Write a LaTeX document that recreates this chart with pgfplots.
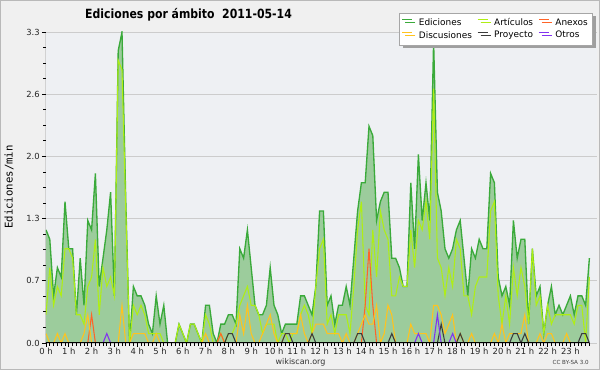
\documentclass[border=0pt]{standalone}
\usepackage{fontspec}
\setmainfont{DejaVu Sans}
\newfontfamily\titlefont[FakeStretch=0.86]{DejaVu Sans}
\newfontfamily\monofont{DejaVu Sans Mono}
\usepackage{pgfplots}
\pgfplotsset{compat=1.18}
\usepackage{pgfplotstable}
\usetikzlibrary{shadows}
\definecolor{bgout}{RGB}{240,240,240}
\definecolor{bgin}{RGB}{238,240,243}
\definecolor{edfill}{RGB}{156,204,156}
\definecolor{edline}{RGB}{58,170,58}
\definecolor{artc}{RGB}{175,238,20}
\definecolor{disc}{RGB}{255,195,30}
\definecolor{anex}{RGB}{255,100,40}
\definecolor{proy}{RGB}{60,60,60}
\definecolor{otro}{RGB}{130,50,240}
\pgfplotstableread{
i E A X D P O
0 1.2 0.3 0 0.1 0 0
1 1.1 0.8 0 0 0 0
2 0.5 0.4 0 0 0 0
3 0.8 0.6 0 0.1 0 0
4 0.7 0.5 0 0 0 0
5 1.5 1.0 0 0.1 0 0
6 1.0 1.0 0 0 0 0
7 1.0 0.9 0 0 0 0
8 0.3 0.3 0 0 0 0
9 0.9 0.3 0 0 0 0
10 0.4 0.2 0 0.1 0 0
11 1.3 0.6 0 0.3 0 0
12 1.2 0.7 0.3 0 0 0
13 1.8 1.1 0 0 0 0
14 0.6 0.3 0 0 0 0
15 0.9 0.8 0 0 0 0
16 1.2 0.6 0 0 0 0.1
17 1.6 0.7 0 0 0 0
18 0.5 0.5 0 0 0 0
19 3.1 3.0 0 0 0 0
20 3.3 2.9 0 0.4 0 0
21 1.5 1.4 0 0 0 0
22 0.0 0 0 0 0 0
23 0.6 0.4 0 0.1 0 0
24 0.5 0.3 0 0.1 0 0
25 0.5 0.4 0 0.1 0 0
26 0.4 0.3 0 0.1 0 0
27 0.2 0.1 0 0 0 0
28 0.1 0.1 0 0 0 0
29 0.5 0.1 0 0.1 0 0
30 0.2 0.1 0 0 0 0
31 0.4 0 0 0 0 0
32 0 0 0 0 0 0
33 0 0 0 0 0 0
34 0 0 0 0 0 0
35 0.2 0.2 0 0 0 0
36 0.1 0.1 0 0 0 0
37 0 0 0 0 0 0
38 0.2 0.2 0 0 0 0
39 0.2 0.2 0 0 0 0
40 0.1 0.1 0 0 0 0
41 0 0 0 0 0 0
42 0.4 0.3 0 0.1 0 0
43 0.4 0.2 0 0 0 0
44 0.1 0 0 0 0 0
45 0 0 0 0 0 0
46 0.2 0.1 0.1 0 0 0
47 0.2 0 0 0 0 0
48 0.3 0.1 0 0 0.1 0
49 0.3 0.1 0 0 0.1 0
50 0.2 0.2 0 0 0 0
51 1.0 0.4 0 0.3 0 0
52 0.9 0.5 0 0.1 0 0
53 1.2 0.6 0 0.4 0 0
54 0.8 0.4 0 0.1 0 0
55 0.4 0.4 0 0 0 0
56 0.3 0.3 0 0 0 0
57 0.3 0.1 0 0.1 0 0
58 0.4 0.2 0 0.2 0 0
59 0.8 0.2 0 0.3 0 0
60 0.4 0.2 0 0.1 0 0
61 0.3 0 0 0 0 0
62 0.1 0.1 0 0 0 0
63 0.2 0.1 0 0.1 0.1 0
64 0.2 0 0 0.1 0.1 0
65 0.2 0.1 0 0.1 0 0
66 0.2 0.1 0 0.1 0 0
67 0.5 0.3 0 0.3 0 0
68 0.5 0.4 0 0.1 0 0
69 0.4 0.3 0 0 0 0
70 0.3 0.1 0 0.1 0.1 0
71 0.6 0.6 0 0.2 0 0
72 1.4 1.0 0 0.2 0 0
73 1.4 1.1 0 0.2 0 0
74 0.4 0.2 0 0.1 0 0
75 0.5 0.3 0 0.1 0 0
76 0.2 0.1 0 0.1 0 0
77 0.4 0.3 0 0.1 0 0
78 0.4 0.3 0 0 0 0
79 0.6 0.3 0 0.1 0 0
80 0.4 0.1 0 0 0 0
81 0.9 0.6 0 0 0 0
82 1.4 1.2 0 0.1 0.1 0
83 1.7 1.5 0 0.2 0.1 0
84 1.7 0.4 0.4 0.3 0 0
85 2.3 0.3 1.0 0.2 0 0
86 2.2 1.2 0.4 0.2 0 0
87 1.3 0.7 0 0.4 0 0
88 1.5 1.4 0 0 0 0
89 1.6 1.2 0 0.1 0 0
90 1.6 1.1 0 0.4 0 0
91 0.9 0.5 0 0.3 0.1 0
92 0.9 0.5 0 0 0 0
93 0.8 0.7 0 0 0 0
94 0.6 0.6 0 0 0 0
95 0.6 0.6 0 0 0 0
96 1.7 1.2 0 0.2 0 0
97 1.0 0.8 0 0.1 0 0
98 2.0 1.3 0 0.1 0 0.1
99 1.3 1.2 0 0.1 0 0
100 1.7 1.5 0 0.1 0 0
101 1.3 1.1 0 0 0 0
102 3.2 2.7 0 0.4 0 0
103 1.6 0.9 0 0.4 0 0.3
104 1.4 0.8 0 0.3 0.2 0
105 1.0 0.5 0 0.1 0 0
106 0.9 0.8 0 0.2 0 0
107 1.0 0.6 0 0.3 0 0.1
108 1.2 1.1 0 0 0 0
109 1.3 1.0 0 0.1 0.1 0
110 0.9 0.5 0 0 0 0
111 0.5 0.5 0 0 0 0
112 1.0 0.3 0 0.1 0 0
113 0.9 0.6 0 0 0 0
114 1.1 0.7 0 0 0 0
115 1.0 0.7 0 0 0 0
116 1.0 0.7 0 0 0 0
117 1.8 1.4 0 0 0 0
118 1.7 1.5 0 0.1 0 0
119 0.7 0.5 0 0 0 0
120 0.5 0.2 0 0.2 0 0
121 0.6 0.5 0 0 0 0
122 0.4 0.2 0 0.1 0 0
123 1.3 0.8 0 0.1 0.1 0
124 0.9 0.5 0 0.1 0.1 0
125 1.1 0.8 0 0.1 0 0
126 1.1 0.6 0 0.3 0.1 0
127 0.2 0.2 0 0 0 0
128 1.0 1.0 0 0 0 0
129 0.5 0.4 0 0 0 0
130 0.6 0.5 0 0.1 0 0
131 0.1 0.1 0 0 0 0
132 0.4 0.4 0 0.1 0 0
133 0.6 0.2 0 0.1 0 0
134 0.3 0.3 0 0 0 0
135 0.4 0.3 0 0 0 0
136 0.3 0.3 0 0 0 0
137 0.4 0.3 0 0.1 0 0
138 0.5 0.3 0 0 0 0
139 0.3 0.2 0 0 0 0
140 0.5 0.4 0 0 0 0
141 0.5 0.4 0 0 0.1 0
142 0.4 0 0 0 0.1 0
143 0.9 0.7 0 0 0 0
}\data
\begin{document}
\begin{tikzpicture}
\path[use as bounding box, fill=bgout] (0,0) rectangle (450pt,277.5pt);
\draw[gray!55, line width=0.75pt] (0.375pt,0.375pt) rectangle (449.625pt,277.125pt);
\begin{axis}[
  at={(34.5pt,20.25pt)}, anchor=south west,
  scale only axis, width=413.25pt, height=233.25pt,
  xmin=0, xmax=145, ymin=0, ymax=3.3,
  axis x line=bottom, axis y line=left,
  x axis line style={draw=none}, y axis line style={draw=none},
  axis background/.style={fill=bgin},
  tick align=outside,
  xtick={0,6,...,138},
  xticklabels={0 h,1 h,2 h,3 h,4 h,5 h,6 h,7 h,8 h,9 h,10 h,11 h,12 h,13 h,14 h,15 h,16 h,17 h,18 h,19 h,20 h,21 h,22 h,23 h},
  minor xtick={0,1,...,143},
  ytick={0,0.66,1.32,1.98,2.64,3.3},
  yticklabels={0.0,0.7,1.3,2.0,2.6,3.3},
  minor y tick num=3,
  major tick length=3pt, minor tick length=2.2pt,
  tick style={black, line width=0.6pt},
  ymajorgrids, major grid style={gray!40, line width=0.7pt},
  xticklabel style={font=\fontsize{6.3}{7}\selectfont, text=black!85, inner sep=1pt},
  yticklabel style={font=\fontsize{6.3}{7}\selectfont, text=black!85, inner sep=1.5pt},
  legend columns=3,
  legend cell align=left,
  legend style={at={(0.9927,1.061)}, anchor=north east, fill=white, draw=gray!70,
    font=\fontsize{6.7}{7.5}\selectfont, inner sep=1.8pt, row sep=-1.2pt,
    drop shadow={shadow xshift=2.2pt, shadow yshift=-2.2pt, fill=gray!75, opacity=1},
    /tikz/every odd column/.append style={column sep=2.5pt},
    /tikz/every even column/.append style={column sep=2pt}},
  legend image code/.code={\draw[#1, line width=0.7pt] (0pt,2.3pt) -- (7.5pt,2.3pt);},
]
\addplot[fill=edfill, draw=none, forget plot] table[x=i, y=E] {\data} \closedcycle;
\addplot[edline, line width=1pt] table[x=i, y=E] {\data};
\addlegendentry{Ediciones}
\addplot[artc, line width=0.8pt] table[x=i, y=A] {\data};
\addlegendentry{Artículos}
\addplot[anex, line width=0.8pt] table[x=i, y=X] {\data};
\addlegendentry{Anexos}
\addplot[disc, line width=0.8pt] table[x=i, y=D] {\data};
\addlegendentry{Discusiones}
\addplot[proy, line width=0.8pt] table[x=i, y=P] {\data};
\addlegendentry{Proyecto}
\addplot[otro, line width=0.8pt] table[x=i, y=O] {\data};
\addlegendentry{Otros}
\draw[black, line width=0.75pt] (axis cs:0,0) -- (axis cs:143,0);
\draw[black, line width=0.75pt] (axis cs:0,0) -- (axis cs:0,3.3);
\end{axis}
\node[anchor=base, font=\titlefont\bfseries\fontsize{9.5}{11}\selectfont, inner sep=0pt] at (141.4pt,263.8pt) {Ediciones por ámbito\ \ 2011-05-14};
\node[rotate=90, font=\monofont\fontsize{8}{9}\selectfont, inner sep=0pt] at (6.75pt,137.25pt) {Ediciones/min};
\node[font=\fontsize{6}{7}\selectfont, text=black!80, inner sep=0pt] at (225.4pt,6pt) {wikiscan.org};
\node[anchor=east, font=\fontsize{4.2}{5}\selectfont, text=black!75, inner sep=0pt] at (441.75pt,5.5pt) {CC BY-SA 3.0};
\end{tikzpicture}
\end{document}
